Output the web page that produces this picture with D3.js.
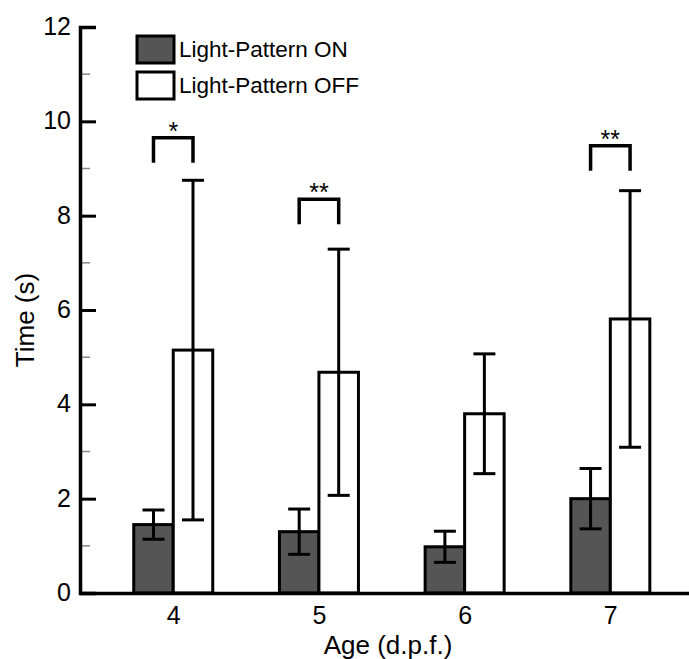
<!DOCTYPE html>
<html lang="en">
<head>
    <meta charset="UTF-8">
    <title>Time by Age</title>
    <script src="https://d3js.org/d3.v7.min.js"></script>
    <style>
        body { margin: 0; background: #fff; }
        text { font-family: Arial, "Liberation Sans", sans-serif; fill: #000; }
    </style>
</head>
<body>
    <svg width="689" height="659"></svg>
    <script>
        // data
        const ages = [4, 5, 6, 7];
        const onMean = [1.45, 1.30, 0.98, 2.00];
        const onErr = [0.31, 0.48, 0.33, 0.64];
        const offMean = [5.15, 4.68, 3.80, 5.81];
        const offErr = [3.60, 2.61, 1.27, 2.72];
        const sigLabels = ["*", "**", "", "**"];
        const sigLevel = [9.65, 8.35, null, 9.48];
        const yTicks = [0, 2, 4, 6, 8, 10, 12];
        const yMinor = [1, 3, 5, 7, 9, 11];

        const svg = d3.select("svg");
        const barW = 39.5;

        const x = d3.scaleLinear().domain([3.36, 7.54]).range([80, 689]);
        const y = d3.scaleLinear().domain([0, 12]).range([593, 27]);

        // minor ticks
        svg.selectAll(".minor")
            .data(yMinor)
            .enter().append("line")
            .attr("x1", 80).attr("x2", 90)
            .attr("y1", d => y(d)).attr("y2", d => y(d))
            .attr("stroke", "#888").attr("stroke-width", 1.5);

        // y axis
        const yAxis = svg.append("g")
            .attr("transform", "translate(80,0)")
            .call(d3.axisRight(y).tickValues(yTicks).tickSize(16).tickFormat(d3.format("d")));
        yAxis.select(".domain").attr("stroke-width", 3.5);
        yAxis.selectAll(".tick line").attr("stroke-width", 3);
        yAxis.selectAll(".tick text")
            .attr("x", -9).attr("dy", "0.3em")
            .attr("text-anchor", "end")
            .style("font-size", "25px");

        // bars
        const rows = ages.map((a, i) => ({age: a, on: onMean[i], onE: onErr[i], off: offMean[i], offE: offErr[i]}));

        svg.selectAll(".bar-on")
            .data(rows)
            .enter().append("rect")
            .attr("x", d => x(d.age) - barW)
            .attr("y", d => y(d.on))
            .attr("width", barW)
            .attr("height", d => y(0) - y(d.on))
            .attr("fill", "#555").attr("stroke", "#000").attr("stroke-width", 3);

        svg.selectAll(".bar-off")
            .data(rows)
            .enter().append("rect")
            .attr("x", d => x(d.age))
            .attr("y", d => y(d.off))
            .attr("width", barW)
            .attr("height", d => y(0) - y(d.off))
            .attr("fill", "#fff").attr("stroke", "#000").attr("stroke-width", 3);

        // error bars
        function errBar(cx, m, e) {
            const g = svg.append("g").attr("stroke", "#000").attr("stroke-width", 3);
            g.append("line").attr("x1", cx).attr("x2", cx).attr("y1", y(m - e)).attr("y2", y(m + e));
            g.append("line").attr("x1", cx - 11).attr("x2", cx + 11).attr("y1", y(m - e)).attr("y2", y(m - e));
            g.append("line").attr("x1", cx - 11).attr("x2", cx + 11).attr("y1", y(m + e)).attr("y2", y(m + e));
        }
        rows.forEach(d => {
            errBar(x(d.age) - barW / 2, d.on, d.onE);
            errBar(x(d.age) + barW / 2, d.off, d.offE);
        });

        // significance brackets
        ages.forEach((a, i) => {
            if (sigLevel[i] == null) return;
            const x1 = x(a) - barW / 2, x2 = x(a) + barW / 2;
            const top = y(sigLevel[i]), leg = top + 25;
            svg.append("path")
                .attr("d", `M${x1},${leg}V${top}H${x2}V${leg}`)
                .attr("fill", "none").attr("stroke", "#000").attr("stroke-width", 3.5);
            svg.append("text")
                .attr("x", (x1 + x2) / 2).attr("y", top + 2)
                .attr("text-anchor", "middle")
                .style("font-size", "25px")
                .text(sigLabels[i]);
        });

        // x axis
        const xAxis = svg.append("g")
            .attr("transform", `translate(0,${y(0)})`)
            .call(d3.axisBottom(x).tickValues(ages).tickSize(0).tickPadding(13).tickFormat(d3.format("d")));
        xAxis.select(".domain").attr("stroke-width", 3.5);
        xAxis.selectAll(".tick text").style("font-size", "25px");

        // axis titles
        svg.append("text")
            .attr("transform", "translate(34,320) rotate(-90)")
            .attr("text-anchor", "middle")
            .style("font-size", "26px")
            .text("Time (s)");
        svg.append("text")
            .attr("x", 388).attr("y", 654)
            .attr("text-anchor", "middle")
            .style("font-size", "26px")
            .text("Age (d.p.f.)");

        // legend
        const legend = [{label: "Light-Pattern ON", fill: "#555"}, {label: "Light-Pattern OFF", fill: "#fff"}];
        legend.forEach((l, i) => {
            svg.append("rect")
                .attr("x", 137).attr("y", 36 + i * 36)
                .attr("width", 37).attr("height", 27)
                .attr("fill", l.fill).attr("stroke", "#000").attr("stroke-width", 3);
            svg.append("text")
                .attr("x", 179).attr("y", 57 + i * 36)
                .style("font-size", "22.5px")
                .text(l.label);
        });
    </script>
</body>
</html>
